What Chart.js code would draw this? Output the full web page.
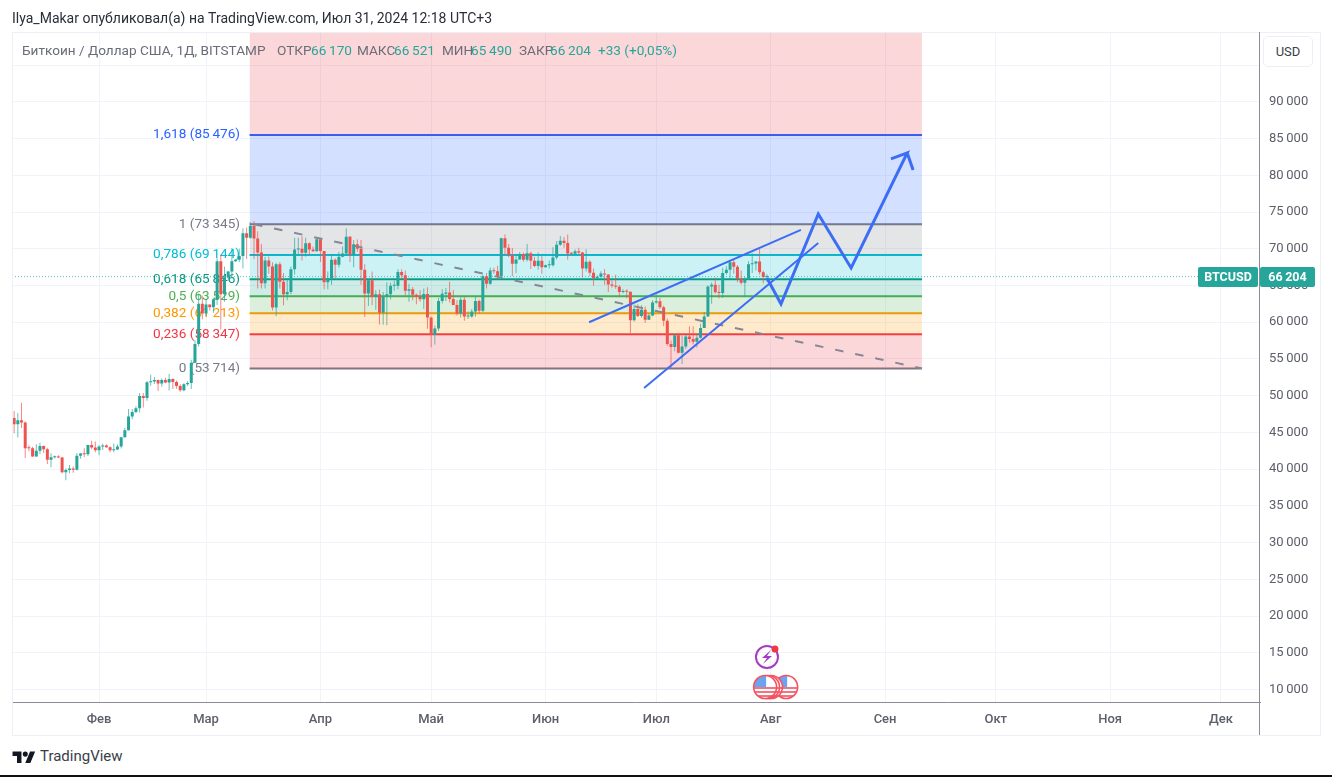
<!DOCTYPE html>
<html lang="ru"><head><meta charset="utf-8">
<script src="https://cdn.jsdelivr.net/npm/chart.js@4/dist/chart.umd.min.js"></script>
<style>
html,body{margin:0;padding:0;background:#fff;width:1332px;height:777px;overflow:hidden;font-family:Roboto,sans-serif}
#wrap{position:relative;width:1332px;height:777px}
canvas{position:absolute;left:12px;top:15px}
.t{position:absolute;white-space:nowrap;line-height:16px}
#hdr{left:12px;top:10px;font-size:14px;color:#2a2e39}
.lg{top:42px;font-size:13.6px;color:#6a6d78}
.g{color:#26a69a}
#frame{position:absolute;left:12px;top:32px;width:1307px;height:702px;border:1px solid #eceff6;pointer-events:none}
#vline{position:absolute;left:1259px;top:32px;width:1px;height:703px;background:#8a8d97}
#usd{position:absolute;left:1263px;top:36px;width:48px;height:29px;border:1px solid #eceef4;border-radius:5px;background:#fff;font-size:13px;color:#3a3e49;line-height:29px;text-align:center}
#logo{position:absolute;left:12px;top:749px;width:24px;height:14px}
#brand{left:40px;top:748px;font-size:15px;color:#3a3e49}
#foot{position:absolute;left:0;top:775px;width:1332px;height:2px;background:#111}
</style></head><body><div id="wrap">
<canvas id="c" width="1308" height="720"></canvas>
<div id="frame"></div><div id="vline"></div>
<div id="usd">USD</div>
<div class="t" id="hdr">Ilya_Makar опубликовал(а) на TradingView.com, Июл 31, 2024 12:18 UTC+3</div>
<div class="t lg" style="left:22px">Биткоин / Доллар США, 1Д, BITSTAMP</div>
<div class="t lg" style="left:277px">ОТКР</div><div class="t lg g" style="left:311px">66&#8201;170</div>
<div class="t lg" style="left:357px">МАКС</div><div class="t lg g" style="left:394px">66&#8201;521</div>
<div class="t lg" style="left:442px">МИН</div><div class="t lg g" style="left:471px">65&#8201;490</div>
<div class="t lg" style="left:519px">ЗАКР</div><div class="t lg g" style="left:550px">66&#8201;204</div>
<div class="t lg g" style="left:598px">+33 (+0,05%)</div>
<svg id="logo" viewBox="0 0 36 22"><path fill="#131722" d="M14 22H7V11H0V4h14v18zM28 22h-8l7.5-18h8L28 22z"/><circle fill="#131722" cx="20" cy="8" r="4"/></svg>
<div class="t" id="brand">TradingView</div>
<div id="foot"></div>
</div>
<script>
// day numbers are counted from 1 Feb 2024; first candle is 9 Jan 2024 (day -23)
const firstDay = -23;
const opens = [46970,46100,46650,46350,42850,42830,41730,42500,43150,42700,41280,41620,41660,41580,39560,39880,40080,39930,41820,42120,42030,43290,42950,
42580,43080,43200,42990,42580,42660,43090,44340,45300,47150,47770,48290,49950,49700,51830,51940,52130,51650,52130,51780,52260,51850,51300,50740,51570,51730,54490,57050,62500,
61200,62400,62040,63130,68300,63800,66100,66900,68300,68500,69000,72100,71500,73100,71400,69500,65300,68400,67600,62000,67900,65500,63800,64100,67200,69900,69990,69450,70750,69900,69650,
71300,69700,65450,65970,68500,67840,68900,69360,71620,69150,70630,70000,67150,63900,65700,63430,63800,61280,63470,63820,64950,64950,66840,66400,64300,64500,63750,63420,63110,63840,
60640,58250,59130,62890,63890,64030,63160,62330,61190,63050,60790,60790,61450,62900,61550,66270,65230,67050,66930,66270,71440,70140,69130,67970,68550,69290,68510,69400,68360,67640,68360,
67490,67750,67750,68800,70560,71100,70790,69350,69310,69650,69500,67320,68240,66750,66010,66190,66640,66490,65150,64960,64830,64100,64250,64150,60280,61800,60860,61700,60320,60930,
62680,62850,62030,60200,57030,56640,58230,55850,56710,58040,57720,57340,57900,59220,60790,64870,65100,64090,63980,66690,67150,68170,67560,65940,65370,65800,67900,68000,68250,66800,66170];
const highs = [47900,47650,49050,46500,43250,43050,43400,43580,43200,42900,42150,41850,41900,41680,40120,40550,40350,42200,42200,42850,43320,43880,43750,
43300,43450,43380,43120,43500,43400,44380,45600,48200,48150,48560,50350,50350,52000,52850,52550,52200,52350,52450,52950,52380,52050,51550,51700,51980,54900,57550,63900,63650,
63200,62400,63250,68700,69200,67600,67000,70100,68600,70000,72800,72900,73650,73780,72400,70650,68900,68950,68150,68100,68200,66700,65950,67600,71500,71500,71700,71500,70900,70300,71350,
71350,69700,66900,69300,68700,69600,70300,72800,71750,71200,71250,71200,67900,65900,66900,64350,64450,64100,65450,65400,65650,67200,67200,67050,65250,64800,63900,64350,64600,64750,
60780,59550,63300,64500,64650,65500,64400,63000,63400,63450,61450,61800,63450,63100,66450,66700,67450,67400,67700,71500,71950,70650,70100,69200,69550,69500,70650,69600,68900,69500,69000,
67850,68400,70200,71050,71750,71600,71950,69550,69900,70150,69550,69950,68450,67300,66400,66950,67250,66550,65700,66450,65050,64500,64500,64150,62400,62450,62300,62150,61150,63000,
63800,63300,62250,60500,57500,58500,58450,58200,58300,59450,59450,58500,59800,61400,65000,65400,66100,65100,67400,67650,68400,68500,67800,67050,66150,68300,69400,68300,70000,67000,66521];
const lows = [44900,44300,45600,41500,42450,41700,41700,42050,42200,40700,40250,41450,41500,39450,38500,39450,39500,39820,41400,41620,41800,42700,42300,
41900,42600,42900,42300,42300,42600,42800,44300,45250,46800,47600,47700,48400,49300,51350,51600,50650,51200,51700,50700,50900,50950,50520,50600,51300,50900,54450,56700,60400,
60800,61600,61300,62350,59000,62800,65600,66000,68200,68200,67300,68600,71350,68600,64600,64600,64600,66600,61600,60800,64600,62300,63000,63800,66500,69300,68400,68900,69100,69550,69600,
68200,64500,64500,65100,66000,67450,68850,69100,68200,67500,69600,65100,60700,62200,62300,61700,59700,59650,59600,63100,64300,64500,65850,63650,62800,63000,62450,62800,61800,59100,
56600,56950,58800,62550,62900,62700,62300,60900,60650,60200,60450,60620,60750,61150,61350,64600,65100,66600,65850,66100,69200,68850,66300,66650,68500,68250,68250,67250,67500,67150,66600,
67450,67300,67600,68550,70400,70150,68500,69200,69150,69200,66100,66900,66300,64950,65900,66050,65100,64100,64700,64550,63400,63950,63250,58500,60100,60700,60600,59900,60300,60800,
62500,61800,59450,56800,53714,56050,55750,54300,56350,57200,56950,56550,57800,59200,60700,62500,63900,63250,63300,66500,65800,66600,65450,65150,63450,65750,66700,67050,66500,65300,65490];
const closes = [46100,46650,46350,42850,42830,41730,42500,43150,42700,41280,41620,41660,41580,39560,39880,40080,39930,41820,42120,42030,43290,42950,42580,
43080,43200,42990,42580,42660,43090,44340,45300,47150,47770,48290,49950,49700,51830,51940,52130,51650,52130,51780,52260,51850,51300,50740,51570,51730,54490,57050,62500,61200,
62400,62040,63130,68300,63800,66100,66900,68300,68500,69000,72100,71500,73100,71400,69500,65300,68400,67600,62000,67900,65500,63800,64100,67200,69900,69990,69450,70750,69900,69650,71300,
69700,65450,65970,68500,67840,68900,69360,71620,69150,70630,70000,67150,63900,65700,63430,63800,61280,63470,63820,64950,64950,66840,66400,64300,64500,63750,63420,63110,63840,60640,
58250,59130,62890,63890,64030,63160,62330,61190,63050,60790,60790,61450,62900,61550,66270,65230,67050,66930,66270,71440,70140,69130,67970,68550,69290,68510,69400,68360,67640,68360,67490,
67750,67750,68800,70560,71100,70790,69350,69310,69650,69500,67320,68240,66750,66010,66190,66640,66490,65150,64960,64830,64100,64250,64150,60280,61800,60860,61700,60320,60930,62680,
62850,62030,60200,57030,56640,58230,55850,56710,58040,57720,57340,57900,59220,60790,64870,65100,64090,63980,66690,67150,68170,67560,65940,65370,65800,67900,68000,68250,66800,66170,66204];

const fibRatios = ['1,618','1','0,786','0,618','0,5','0,382','0,236','0'];
const fibValues = [85476,73345,69144,65846,63529,61213,58347,53714];
const fibColors = ['#2962ff','#787b86','#00bcd4','#089981','#4caf50','#ff9800','#f23645','#787b86'];
const fibFills  = ['rgba(41,98,255,.2)','rgba(120,123,134,.2)','rgba(0,188,212,.2)','rgba(8,153,129,.2)','rgba(76,175,80,.2)','rgba(255,152,0,.2)','rgba(242,54,69,.2)'];
const fibStartDay = 40.8, fibEndDay = 223;
const fibTopValue = 99537, fibTopFill = 'rgba(242,54,69,.2)';

const dashDays = [42,223],   dashPrices = [73345,53714];
const upperDays = [132.8,190.2], upperPrices = [60000,72561];
const lowerDays = [147.7,194.9], lowerPrices = [51035,70790];
const zigDays = [181,184.8,194.9,203.8,219,214.6,219,220.6];
const zigPrices = [66022,62480,74741,67384,83052,82234,83052,80736];
const lastPrice = 66204;

const monthDays = [0,29,60,90,121,151,182,213,243,274,304];
const monthNames = ['Фев','Мар','Апр','Май','Июн','Июл','Авг','Сен','Окт','Ноя','Дек'];
const priceTicks = [10000,15000,20000,25000,30000,35000,40000,45000,50000,55000,60000,65000,70000,75000,80000,85000,90000,95000];
const hiddenTick = 95000;
const flagDays = [186.2,182.1,181.3,180.5];
const boltDay = 181;

const UP='#26a69a', DOWN='#ef5350';
const fmt = v => String(v).replace(/\B(?=(\d{3})+$)/g,'\u2009');
const days = opens.map((_,i)=>firstDay+i);
const cols = opens.map((o,i)=>closes[i]>=o?UP:DOWN);
const line = (xs,ys,o)=>Object.assign({type:'line',data:xs.map((x,i)=>({x,y:ys[i]})),pointRadius:0,borderWidth:2,tension:0,fill:false},o);

const datasets=[];
const bandVals=[fibTopValue].concat(fibValues), bandFills=[fibTopFill].concat(fibFills);
bandVals.forEach((v,i)=>{
  const isTop=i===0, isLast=i===bandVals.length-1;
  datasets.push(line([fibStartDay,fibEndDay],[v,v],{
    order:50,
    borderColor:isTop?'rgba(0,0,0,0)':fibColors[i-1],
    borderWidth:isTop?0:2,
    fill:isLast?false:{target:datasets.length+1,above:bandFills[i],below:bandFills[i]},
  }));
});
datasets.push(line([-23.58,314.6],[lastPrice,lastPrice],{order:40,borderColor:'#5fbdb4',borderWidth:1,borderDash:[1,2]}));
datasets.push({type:'bar',order:30,data:days.map((x,i)=>({x,y:[lows[i],highs[i]]})),backgroundColor:cols.map(c=>c+'b0'),barThickness:1,grouped:false,borderWidth:0,inflateAmount:0});
datasets.push({type:'bar',order:29,data:days.map((x,i)=>({x,y:[Math.min(opens[i],closes[i]),Math.max(opens[i],closes[i])]})),backgroundColor:cols,barThickness:3,grouped:false,borderWidth:0,inflateAmount:0,minBarLength:1});
datasets.push(line(dashDays,dashPrices,{order:20,borderColor:'#858894',borderDash:[8.5,12]}));
datasets.push(line(upperDays,upperPrices,{order:19,borderColor:'#3b6ef5',borderWidth:2}));
datasets.push(line(lowerDays,lowerPrices,{order:18,borderColor:'#3b6ef5',borderWidth:2}));
datasets.push(line(zigDays,zigPrices,{order:17,borderColor:'#3b6ef5',borderWidth:3,borderJoinStyle:'miter'}));

const fibLabels={id:'fibLabels',beforeDatasetsDraw(ch){
  const c=ch.ctx,ys=ch.scales.y;
  const r=ch.scales.x.getPixelForValue(fibStartDay)-9.5;
  c.save();c.font='13.6px Roboto, sans-serif';c.textAlign='right';c.textBaseline='middle';
  fibValues.forEach((v,i)=>{c.fillStyle=fibColors[i];c.fillText(fibRatios[i]+' ('+fmt(v)+')',r,ys.getPixelForValue(v));});
  c.restore();
}};
const tags={id:'tags',afterDraw(ch){
  const c=ch.ctx,ys=ch.scales.y,xs=ch.scales.x,a=ch.chartArea;
  const y=Math.round(ys.getPixelForValue(lastPrice));
  c.save();
  c.fillStyle=UP;
  c.beginPath();c.roundRect(a.right-62,y-10,60,20,2);c.fill();
  c.beginPath();c.roundRect(a.right,y-10,55,20,2);c.fill();
  c.fillStyle='#fff';c.font='bold 12.5px Roboto, sans-serif';c.textBaseline='middle';c.textAlign='center';
  c.fillText('BTCUSD',a.right-32,y+.5);
  c.fillText(fmt(lastPrice),a.right+27.5,y+.5);
  const fy=ys.getPixelForValue(10000)-2.5, by=fy-30;
  flagDays.forEach((d,i)=>{
    const x=xs.getPixelForValue(d),r=11.5;
    c.save();c.beginPath();c.arc(x,fy,r,0,Math.PI*2);c.fillStyle='#fff';c.fill();c.clip();
    [1,5,9].forEach(s=>{c.fillStyle='#f4747f';c.fillRect(x-r,fy+s-1,2*r,2);});
    c.fillStyle='#6aa5f2';c.fillRect(x-r,fy-r,r+1,r);
    c.restore();
    c.beginPath();c.arc(x,fy,r,0,Math.PI*2);c.strokeStyle='#f4525f';c.lineWidth=1.6;c.stroke();
  });
  const bx=xs.getPixelForValue(boltDay);
  c.beginPath();c.arc(bx,by,11,0,Math.PI*2);c.strokeStyle='#a63cc4';c.lineWidth=2;c.stroke();
  c.beginPath();c.moveTo(bx+4,by-7);c.lineTo(bx-5,by+1);c.lineTo(bx,by+1);c.lineTo(bx-4,by+7);c.lineTo(bx+5,by-1);c.lineTo(bx,by-1);c.closePath();c.fillStyle='#a63cc4';c.fill();
  c.beginPath();c.arc(bx+8,by-8,3.5,0,Math.PI*2);c.fillStyle='#f23645';c.fill();
  c.restore();
}};

new Chart(document.getElementById('c'),{
  data:{datasets},
  plugins:[fibLabels,tags],
  options:{
    responsive:false,animation:false,events:[],
    layout:{padding:0,autoPadding:false},
    plugins:{legend:{display:false},tooltip:{enabled:false},title:{display:false}},
    scales:{
      x:{type:'linear',position:'bottom',min:-23.58,max:314.6,offset:false,
        afterBuildTicks(s){s.ticks=monthDays.map(value=>({value}));},
        afterFit(s){s.height=33;},
        grid:{color:'#f0f3fa',drawTicks:false,lineWidth:1,offset:false},
        border:{display:true,color:'#8a8d97',width:1},
        ticks:{autoSkip:false,maxRotation:0,padding:10,color:'#5d606b',font:{family:'Roboto, sans-serif',size:13,weight:'500'},
          callback(v){const i=monthDays.indexOf(v);return i<0?'':monthNames[i];}}},
      y:{type:'linear',position:'right',min:8297,max:99537,
        afterBuildTicks(s){s.ticks=priceTicks.map(value=>({value}));},
        afterFit(s){s.width=60;},
        grid:{color:'#f0f3fa',drawTicks:false,lineWidth:1},
        border:{display:false},
        ticks:{padding:9,color:'#5d606b',font:{family:'Roboto, sans-serif',size:13},
          callback(v){return v===hiddenTick?'':fmt(v);}}}
    }
  }
});
</script></body></html>
